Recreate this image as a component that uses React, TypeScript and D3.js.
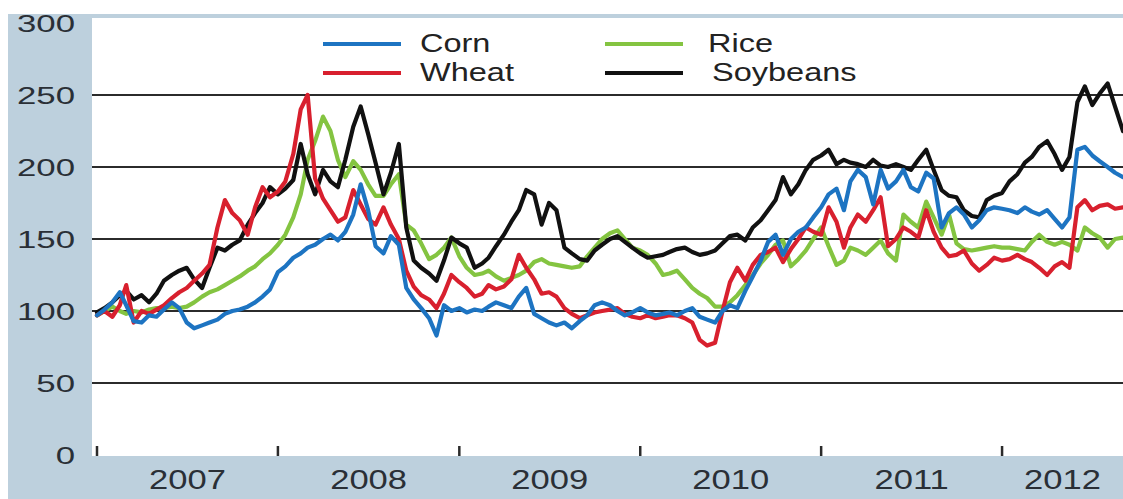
import React from "react";
import * as d3 from "d3";

// index = half-month steps starting Jan 2007
const years = ["2007", "2008", "2009", "2010", "2011", "2012"];
const yTicks = [0, 50, 100, 150, 200, 250, 300];
const gridValues = [50, 100, 150, 200, 250];

const corn = [
  97, 101, 106, 113, 104, 93, 92, 97, 96, 101, 106, 102, 92, 88, 90, 92, 94, 98, 100, 101,
  103, 106, 110, 115, 127, 131, 137, 140, 144, 146, 150, 153, 149, 155, 167, 188, 170, 145, 140, 152,
  146, 116, 108, 102, 95, 83, 104, 100, 102, 99, 101, 100, 103, 106, 104, 102, 110, 116, 98, 95,
  92, 90, 92, 88, 93, 97, 104, 106, 104, 100, 97, 99, 102, 99, 97, 98, 99, 97, 100, 102,
  96, 94, 92, 100, 104, 102, 114, 124, 135, 148, 153, 139, 150, 155, 158, 165, 172, 181, 185, 170,
  190, 198, 193, 174, 198, 185, 190, 198, 186, 183, 196, 192, 158, 168, 172, 167, 158, 163, 170, 172,
  171, 170, 168, 172, 169, 167, 170, 164, 158, 165, 212, 214, 208, 204, 200, 196, 193,
];

const wheat = [
  97, 100, 96, 104, 118, 92, 100, 98, 101, 104, 109, 113, 116, 121, 126, 132, 158, 177, 168, 163,
  153, 172, 186, 179, 183, 190, 209, 240, 250, 192, 178, 170, 162, 165, 184, 174, 164, 160, 172, 160,
  150, 128, 117, 111, 108, 102, 112, 125, 120, 116, 110, 112, 118, 115, 117, 122, 139, 130, 122, 112,
  113, 110, 102, 98, 95, 97, 99, 100, 101, 102, 98, 96, 95, 97, 95, 96, 97, 97, 95, 92,
  80, 76, 78, 100, 120, 130, 121, 132, 139, 141, 144, 134, 143, 150, 158, 155, 153, 172, 162, 144,
  158, 167, 162, 170, 179, 145, 150, 158, 155, 151, 170, 155, 144, 138, 139, 142, 133, 128, 132, 137,
  135, 136, 139, 136, 134, 130, 125, 131, 134, 130, 172, 177, 170, 173, 174, 171, 172,
];

const rice = [
  97, 100, 103, 100, 98, 100, 99, 101, 102, 102, 103, 102, 103, 106, 110, 113, 115, 118, 121, 124,
  128, 131, 136, 140, 146, 153, 165, 181, 205, 218, 235, 225, 205, 193, 204, 198, 188, 180, 180, 188,
  195, 160, 156, 147, 136, 139, 144, 151, 138, 130, 125, 126, 128, 124, 121, 123, 125, 128, 134, 136,
  133, 132, 131, 130, 131, 138, 144, 150, 154, 156, 150, 144, 142, 139, 133, 125, 126, 128, 122, 116,
  112, 109, 103, 103, 106, 111, 118, 125, 133, 139, 146, 149, 131, 136, 142, 150, 158, 145, 132, 135,
  144, 142, 139, 144, 149, 140, 135, 167, 162, 158, 176, 165, 153, 167, 147, 143, 142, 143, 144, 145,
  144, 144, 143, 142, 148, 153, 148, 146, 148, 146, 142, 158, 154, 151, 144, 150, 151,
];

const soybeans = [
  99, 102, 106, 111, 114, 108, 111, 106, 112, 121, 125, 128, 130, 122, 116, 130, 144, 142, 146, 149,
  160, 168, 175, 186, 181, 185, 191, 216, 195, 181, 198, 190, 186, 205, 228, 242, 223, 203, 181, 196,
  216, 158, 135, 130, 126, 121, 135, 151, 147, 144, 130, 133, 137, 145, 153, 162, 170, 184, 181, 160,
  175, 170, 144, 140, 136, 135, 142, 146, 150, 152, 148, 144, 140, 137, 138, 139, 141, 143, 144, 141,
  139, 140, 142, 147, 152, 153, 149, 158, 163, 170, 177, 193, 181, 188, 198, 205, 208, 212, 202, 205,
  203, 202, 200, 205, 201, 200, 202, 200, 198, 205, 212, 198, 184, 180, 179, 170, 166, 165, 177, 180,
  182, 190, 195, 203, 207, 214, 218, 209, 198, 207, 245, 256, 243, 251, 258, 242, 225,
];

const dates = corn.map((_, i) => new Date(2007, Math.floor(i / 2), i % 2 ? 16 : 1));

const series = [
  { name: "Rice", values: rice, color: "#84c441" },
  { name: "Soybeans", values: soybeans, color: "#111111" },
  { name: "Wheat", values: wheat, color: "#d8202e" },
  { name: "Corn", values: corn, color: "#1d74c2" },
];

const legendItems = [
  { name: "Corn", color: "#1d74c2", lx: 323, ly: 44, tx: 420 },
  { name: "Wheat", color: "#d8202e", lx: 323, ly: 73, tx: 420 },
  { name: "Rice", color: "#84c441", lx: 605, ly: 44, tx: 708 },
  { name: "Soybeans", color: "#111111", lx: 605, ly: 73, tx: 712 },
];

const W = 1123;
const H = 499;
const plot = { left: 92, top: 18, right: W, bottom: 456 };
const font = "'Liberation Sans', Arial, sans-serif";
const bg = "#bdd0dd";
const textColor = "#2a2f36";

export default function App() {
  const x = d3
    .scaleTime()
    .domain([new Date(2007, 0, 1), new Date(2012, 8, 1)])
    .range([97, W]);
  const y = d3.scaleLinear().domain([0, 300]).range([455, 23]);

  const line = d3
    .line<number>()
    .x((_, i) => x(dates[i]))
    .y((d) => y(d));

  const yearStarts = years.map((yr) => new Date(+yr, 0, 1));

  return (
    <svg
      width={W}
      height={H}
      style={{ position: "absolute", left: 0, top: 0, display: "block" }}
    >
      <rect x={0} y={0} width={W} height={H} fill="#ffffff" />
      <rect x={8} y={14} width={W - 8} height={H - 14} fill={bg} />
      <rect
        x={plot.left}
        y={plot.top}
        width={plot.right - plot.left}
        height={plot.bottom - plot.top}
        fill="#ffffff"
      />
      <defs>
        <clipPath id="plotClip">
          <rect
            x={plot.left}
            y={plot.top}
            width={plot.right - plot.left}
            height={plot.bottom - plot.top}
          />
        </clipPath>
      </defs>

      {/* gridlines */}
      {gridValues.map((v) => (
        <line
          key={v}
          x1={plot.left}
          x2={plot.right}
          y1={y(v)}
          y2={y(v)}
          stroke="#2b2b2b"
          strokeWidth={2}
        />
      ))}

      {/* y labels */}
      {yTicks.map((v) => (
        <text
          key={v}
          transform={`translate(75,${y(v) + 3}) scale(1.45,1)`}
          textAnchor="end"
          dominantBaseline="middle"
          fontFamily={font}
          fontSize={24}
          fill={textColor}
        >
          {v}
        </text>
      ))}

      {/* x ticks + year labels */}
      {yearStarts.map((d, i) => {
        const x0 = x(d);
        const x1 = i < yearStarts.length - 1 ? x(yearStarts[i + 1]) : W;
        return (
          <g key={years[i]}>
            <line x1={x0} x2={x0} y1={446} y2={456} stroke="#2b2b2b" strokeWidth={2.5} />
            <text
              transform={`translate(${(x0 + x1) / 2},489) scale(1.28,1)`}
              textAnchor="middle"
              fontFamily={font}
              fontSize={27}
              fill={textColor}
            >
              {years[i]}
            </text>
          </g>
        );
      })}

      {/* series */}
      <g clipPath="url(#plotClip)">
        {series.map((s) => (
          <path
            key={s.name}
            d={line(s.values) || ""}
            fill="none"
            stroke={s.color}
            strokeWidth={4.2}
            strokeLinejoin="round"
            strokeLinecap="round"
          />
        ))}
      </g>

      {/* legend */}
      {legendItems.map((l) => (
        <g key={l.name}>
          <line x1={l.lx} x2={l.lx + 78} y1={l.ly} y2={l.ly} stroke={l.color} strokeWidth={4} />
          <text
            transform={`translate(${l.tx},${l.ly + 8}) scale(1.25,1)`}
            fontFamily={font}
            fontSize={26}
            fill="#222"
          >
            {l.name}
          </text>
        </g>
      ))}
    </svg>
  );
}
